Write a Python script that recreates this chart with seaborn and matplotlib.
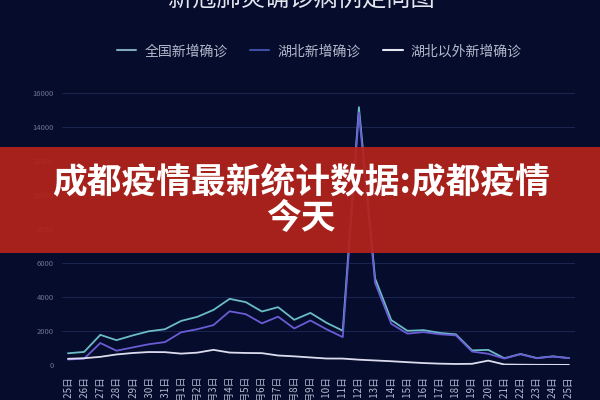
import pandas as pd
import matplotlib
matplotlib.use("Agg")
import matplotlib.pyplot as plt
import matplotlib.patches as mpatches
from matplotlib.lines import Line2D
import seaborn as sns

# dates on the x axis
dates = ["1月%d日" % d for d in range(25, 32)] + ["2月%d日" % d for d in range(1, 26)]

# new confirmed cases per day
national = [688, 769, 1771, 1459, 1737, 1982, 2102, 2590, 2829, 3235, 3887, 3694,
            3143, 3399, 2656, 3062, 2478, 2015, 15152, 5090, 2641, 2009, 2048, 1886,
            1800, 860, 889, 397, 648, 409, 508, 406]
hubei = [323, 371, 1291, 840, 1032, 1220, 1347, 1921, 2103, 2345, 3156, 2987,
         2447, 2841, 2147, 2618, 2097, 1638, 14840, 4823, 2420, 1843, 1933, 1807,
         1740, 790, 660, 380, 630, 398, 499, 401]
outside = [365, 398, 480, 619, 705, 762, 755, 669, 726, 890, 731, 707,
           696, 558, 509, 444, 381, 377, 312, 267, 221, 166, 115, 79,
           60, 70, 258, 31, 18, 11, 9, 5]

series_names = ["全国新增确诊", "湖北新增确诊", "湖北以外新增确诊"]
line_colors = ["#6bbcc6", "#6a5cd4", "#dcdcee"]
legend_colors = ["#7fa8b8", "#3f4ca0", "#e6e6f0"]

df = pd.DataFrame({
    "idx": list(range(len(dates))) * 3,
    "value": national + hubei + outside,
    "series": [series_names[0]] * len(dates) + [series_names[1]] * len(dates)
              + [series_names[2]] * len(dates),
})

bg = "#050c2c"
sns.set_style("dark")
plt.rcParams["font.family"] = ["Noto Sans CJK SC", "DejaVu Sans"]

fig = plt.figure(figsize=(6, 4), dpi=100, facecolor=bg)
ax = fig.add_axes([62 / 600, 35 / 400, 513 / 600, 272.3 / 400])
ax.set_facecolor(bg)

sns.lineplot(data=df, x="idx", y="value", hue="series", hue_order=series_names,
             palette=dict(zip(series_names, line_colors)), linewidth=1.3,
             legend=False, ax=ax)

ax.set_xlim(-0.37, 31.37)
ax.set_ylim(0, 16000)
ax.set_yticks(range(0, 16001, 2000))
ax.set_xticks(range(len(dates)))
ax.set_xticklabels(dates, rotation=90, fontsize=7, color="#b4bad0")
ax.tick_params(axis="y", labelsize=5.5, colors="#6c7592", length=0, pad=6)
ax.tick_params(axis="x", length=0, pad=8)
ax.grid(axis="y", color="#1b2552", linewidth=0.7)
ax.grid(axis="x", visible=False)
ax.set_xlabel("")
ax.set_ylabel("")
for s in ax.spines.values():
    s.set_visible(False)

fig.text(0.503, 1.0, "新冠肺炎确诊病例走向图", ha="center", va="center",
         fontsize=17.5, color="#e4e6ef")

handles = [Line2D([0], [0], color=c, linewidth=1.5) for c in legend_colors]
fig.legend(handles, series_names, loc="center", bbox_to_anchor=(0.532, 0.872),
           ncol=3, frameon=False, fontsize=10, labelcolor="#b4bacb",
           handlelength=1.4, handletextpad=0.6, columnspacing=1.6)

# red banner over the chart
fig.patches.append(mpatches.Rectangle((0, (400 - 253) / 400), 1, 106 / 400,
                                      transform=fig.transFigure, facecolor="#b5231a",
                                      edgecolor="none", linewidth=0,
                                      alpha=0.92, zorder=10))
fig.text(0.502, (400 - 183) / 400, "成都疫情最新统计数据:成都疫情", ha="center", va="center",
         fontsize=25, fontweight="bold", color="white", zorder=11)
fig.text(0.502, (400 - 219) / 400, "今天", ha="center", va="center",
         fontsize=25, fontweight="bold", color="white", zorder=11)

fig.savefig("out.png", dpi=100, facecolor=bg)
